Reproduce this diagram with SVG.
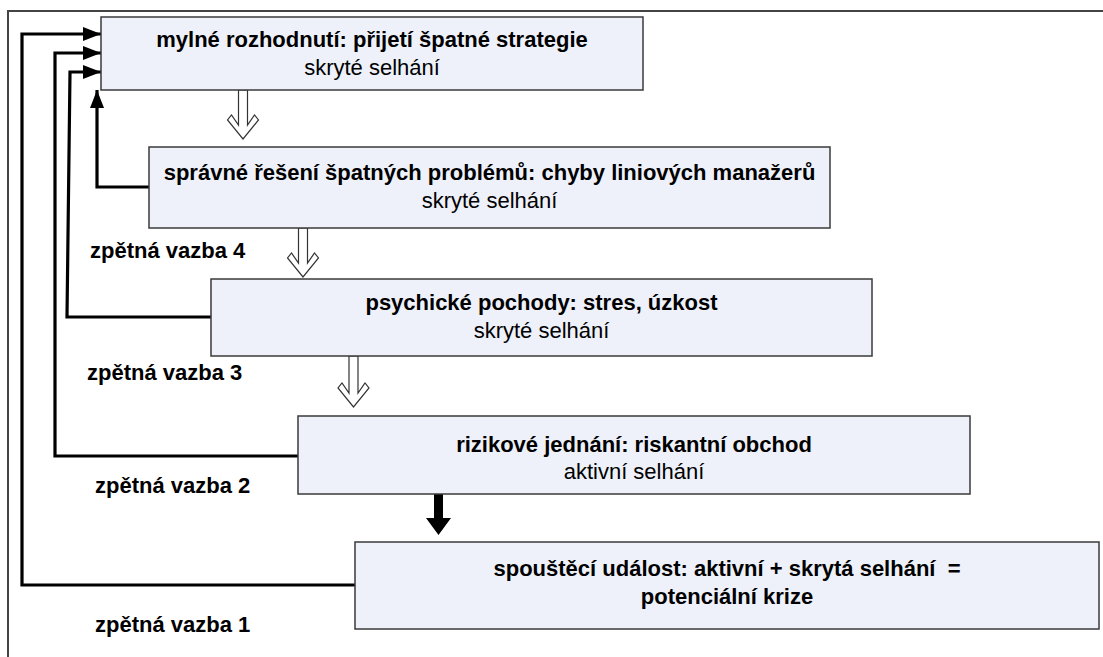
<svg xmlns="http://www.w3.org/2000/svg" width="1103" height="657" viewBox="0 0 1103 657">
<style>
.box{fill:#eef1f9;stroke:#3a3a3a;stroke-width:1.5}
.t{font-family:"Liberation Sans",Arial,sans-serif;font-size:22px;fill:#000;text-anchor:middle}
.b{font-weight:bold}
.lbl{font-family:"Liberation Sans",Arial,sans-serif;font-size:22px;font-weight:bold;fill:#000}
.fb{fill:none;stroke:#000;stroke-width:3.2}
.hollow{fill:#fff;stroke:#333;stroke-width:1.2}
</style>
<defs>
<marker id="ah" markerUnits="userSpaceOnUse" markerWidth="18" markerHeight="14" refX="18" refY="7" orient="auto">
<path d="M0,0 L18,7 L0,14 Z" fill="#000"/>
</marker>
</defs>
<rect width="1103" height="657" fill="#fff"/>
<g id="frame">
<path d="M8,657 L8,11 L1103,11" fill="none" stroke="#444" stroke-width="2"/>
</g>
<g id="connectors">
<path class="fb" d="M355,585 L22,585 L22,34 L101,34" marker-end="url(#ah)"/>
<path class="fb" d="M298,456 L55,456 L55,53 L101,53" marker-end="url(#ah)"/>
<path class="fb" d="M211,317 L67,317 L70,72 L101,72" marker-end="url(#ah)"/>
<path class="fb" d="M149,187 L97,187 L97,90" marker-end="url(#ah)"/>
<polygon class="hollow" points="238.5,90 247.5,90 247.5,125 254.5,115 258.5,120 243,139 227.5,120 231.5,115 238.5,125"/>
<polygon class="hollow" points="298.5,228 307.5,228 307.5,263 314.5,253 318.5,258 303,277 287.5,258 291.5,253 298.5,263"/>
<polygon class="hollow" points="349,356 358,356 358,393 365,383 369,388 353.5,407 338,388 342,383 349,393"/>
<polygon points="434,494 443,494 443,518 451,518 438.5,535 426,518 434,518" fill="#000"/>
</g>
<g id="n1">
<rect class="box" x="101" y="17" width="542" height="73"/>
<text class="t b" x="372" y="47">mylné rozhodnutí: přijetí špatné strategie</text>
<text class="t" x="372" y="75">skryté selhání</text>
</g>
<g id="n2">
<rect class="box" x="149" y="147" width="681" height="81"/>
<text class="t b" x="489.5" y="180">správné řešení špatných problémů: chyby liniových manažerů</text>
<text class="t" x="489.5" y="208">skryté selhání</text>
</g>
<g id="n3">
<rect class="box" x="211" y="279" width="661" height="77"/>
<text class="t b" x="541.5" y="310">psychické pochody: stres, úzkost</text>
<text class="t" x="541.5" y="338">skryté selhání</text>
</g>
<g id="n4">
<rect class="box" x="298" y="416" width="672" height="78"/>
<text class="t b" x="634" y="452">rizikové jednání: riskantní obchod</text>
<text class="t" x="634" y="479">aktivní selhání</text>
</g>
<g id="n5">
<rect class="box" x="355" y="542" width="744" height="87"/>
<text class="t b" x="727" y="576" xml:space="preserve">spouštěcí událost: aktivní + skrytá selhání  =</text>
<text class="t b" x="727" y="604">potenciální krize</text>
</g>
<g id="labels">
<text class="lbl" x="90" y="258">zpětná vazba 4</text>
<text class="lbl" x="87" y="380">zpětná vazba 3</text>
<text class="lbl" x="95" y="493">zpětná vazba 2</text>
<text class="lbl" x="95" y="632">zpětná vazba 1</text>
</g>
</svg>
